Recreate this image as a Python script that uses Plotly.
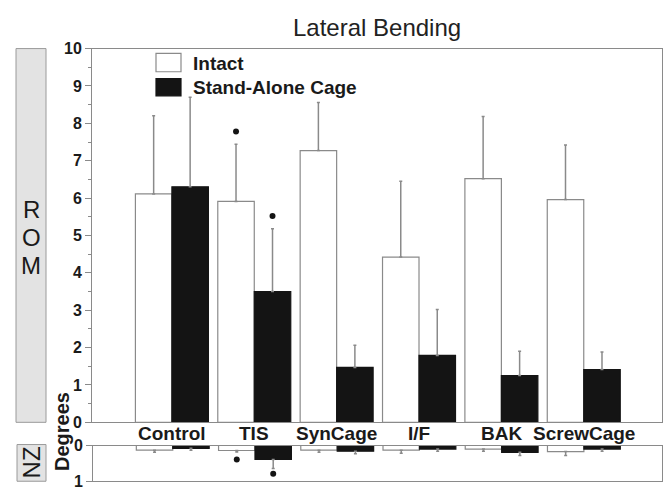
import plotly.graph_objects as go

categories = ["Control", "TIS", "SynCage", "I/F", "BAK", "ScrewCage"]

# ROM (degrees), main panel
rom_intact = [6.11, 5.91, 7.27, 4.42, 6.52, 5.96]
rom_intact_sd = [2.09, 1.53, 1.29, 2.03, 1.66, 1.46]
rom_cage = [6.30, 3.50, 1.47, 1.79, 1.25, 1.41]
rom_cage_sd = [2.40, 1.68, 0.59, 1.23, 0.65, 0.47]
rom_intact_sig = [None, 7.78, None, None, None, None]
rom_cage_sig = [None, 5.52, None, None, None, None]

# NZ (degrees), lower panel
nz_intact = [0.13, 0.14, 0.13, 0.13, 0.10, 0.17]
nz_intact_sd = [0.06, 0.04, 0.06, 0.09, 0.06, 0.11]
nz_cage = [0.08, 0.39, 0.16, 0.10, 0.19, 0.10]
nz_cage_sd = [0.05, 0.25, 0.07, 0.06, 0.09, 0.06]
nz_intact_sig = [None, 0.39, None, None, None, None]
nz_cage_sig = [None, 0.79, None, None, None, None]

series_names = ["Intact", "Stand-Alone Cage"]

GRAY = "#8a8a8a"
BLACK = "#141414"
TXT = "#1a1a1a"
FONT = "Liberation Sans, Arial, sans-serif"

fig = go.Figure()

def add_bars(y, sd, sig, name, fill, line, xa, ya, og):
    fig.add_trace(go.Bar(
        x=categories, y=y, name=name, xaxis=xa, yaxis=ya,
        offsetgroup=og, alignmentgroup="g" + xa,
        marker=dict(color=fill, line=dict(color=line, width=1.2)),
        error_y=dict(type="data", symmetric=False, array=sd,
                     arrayminus=[0] * len(sd), color=GRAY,
                     thickness=1.5, width=1.5),
        showlegend=False,
    ))
    fig.add_trace(go.Scatter(
        x=categories, y=sig, mode="markers", xaxis=xa, yaxis=ya,
        offsetgroup=og, alignmentgroup="g" + xa,
        marker=dict(symbol="circle", size=6, color=BLACK),
        showlegend=False, cliponaxis=False,
    ))

add_bars(rom_intact, rom_intact_sd, rom_intact_sig, series_names[0], "white", GRAY, "x", "y", "a")
add_bars(rom_cage, rom_cage_sd, rom_cage_sig, series_names[1], BLACK, BLACK, "x", "y", "b")
add_bars(nz_intact, nz_intact_sd, nz_intact_sig, series_names[0], "white", GRAY, "x2", "y2", "a")
add_bars(nz_cage, nz_cage_sd, nz_cage_sig, series_names[1], BLACK, BLACK, "x2", "y2", "b")

xdom = [92 / 672, 662 / 672]
xrange = [-0.97, 5.95]

fig.update_layout(
    width=672, height=497, autosize=False,
    margin=dict(l=0, r=0, t=0, b=0),
    paper_bgcolor="white", plot_bgcolor="white",
    barmode="group", bargap=0.114, bargroupgap=0,
    scattermode="group", scattergap=0.114,
    font=dict(family=FONT, color=TXT),
    xaxis=dict(domain=xdom, range=xrange, type="category",
               showline=True, linecolor=GRAY, linewidth=1, mirror=True,
               ticks="", showticklabels=False, showgrid=False),
    yaxis=dict(domain=[1 - 429 / 497, 1 - 42 / 497], range=[0, 10],
               dtick=1, ticks="outside", ticklen=6, tickcolor=GRAY,
               showline=True, linecolor=GRAY, linewidth=1, mirror=True,
               showgrid=False, zeroline=False,
               minor=dict(dtick=0.5, ticks="outside", ticklen=3, tickcolor=GRAY),
               tickfont=dict(size=16, family=FONT, weight="bold", color=TXT)),
    xaxis2=dict(domain=[93 / 672, 662 / 672], range=xrange, type="category",
                anchor="y2", showline=True, linecolor=GRAY, linewidth=1,
                mirror=True, ticks="", showticklabels=False, showgrid=False),
    yaxis2=dict(domain=[1 - 490 / 497, 1 - 453 / 497], range=[1, 0],
                anchor="x2", tickvals=[0, 1], ticktext=["0", "1"],
                ticks="outside", ticklen=6, tickcolor=GRAY,
                showline=True, linecolor=GRAY, linewidth=1, mirror=True,
                showgrid=False, zeroline=False,
                tickfont=dict(size=16, family=FONT, weight="bold", color=TXT)),
)

# Category labels, between the two panels
for cat in categories:
    fig.add_annotation(text=cat, xref="x", yref="paper", x=cat,
                       y=1 - 441 / 497, showarrow=False,
                       xanchor="center", yanchor="middle",
                       font=dict(size=19, family=FONT, weight="bold", color=TXT))

# Title
fig.add_annotation(text="Lateral Bending", xref="paper", yref="paper",
                   x=377 / 672, y=1 - 20 / 497, showarrow=False,
                   xanchor="center", yanchor="middle",
                   font=dict(size=24, family=FONT, color="#222"))

# Legend (drawn manually to match large swatches)
fig.add_shape(type="rect", xref="paper", yref="paper",
              x0=156 / 672, x1=181 / 672, y0=1 - 66 / 497, y1=1 - 47 / 497,
              fillcolor="white", line=dict(color=GRAY, width=1.2))
fig.add_shape(type="rect", xref="paper", yref="paper",
              x0=156 / 672, x1=181 / 672, y0=1 - 91 / 497, y1=1 - 73 / 497,
              fillcolor=BLACK, line=dict(color=BLACK, width=1.2))
for name, yc in zip(series_names, [57, 82]):
    fig.add_annotation(text=name, xref="paper", yref="paper",
                       x=191 / 672, y=1 - yc / 497, showarrow=False,
                       xanchor="left", yanchor="middle",
                       font=dict(size=19, family=FONT, weight="bold", color=TXT))

# Side label boxes
BOXFILL = "#e3e3e3"
fig.add_shape(type="rect", xref="paper", yref="paper",
              x0=16 / 672, x1=46 / 672, y0=1 - 429 / 497, y1=1 - 42 / 497,
              fillcolor=BOXFILL, line=dict(color="#9a9a9a", width=1))
fig.add_shape(type="rect", xref="paper", yref="paper",
              x0=17 / 672, x1=46 / 672, y0=1 - 490 / 497, y1=1 - 452 / 497,
              fillcolor=BOXFILL, line=dict(color="#9a9a9a", width=1))
for ch, yc in zip("ROM", [209, 238, 267]):
    fig.add_annotation(text=ch, xref="paper", yref="paper",
                       x=31 / 672, y=1 - yc / 497, showarrow=False,
                       xanchor="center", yanchor="middle",
                       font=dict(size=24, family=FONT, color=TXT))
fig.add_annotation(text="NZ", xref="paper", yref="paper",
                   x=31.5 / 672, y=1 - 471 / 497, showarrow=False,
                   xanchor="center", yanchor="middle", textangle=-90,
                   font=dict(size=24, family=FONT, color=TXT))
fig.add_annotation(text="Degrees", xref="paper", yref="paper",
                   x=62 / 672, y=1 - 439 / 497, showarrow=False,
                   xanchor="center", yanchor="middle", textangle=-90,
                   font=dict(size=20, family=FONT, weight="bold", color=TXT))

fig.write_html("out.html")
